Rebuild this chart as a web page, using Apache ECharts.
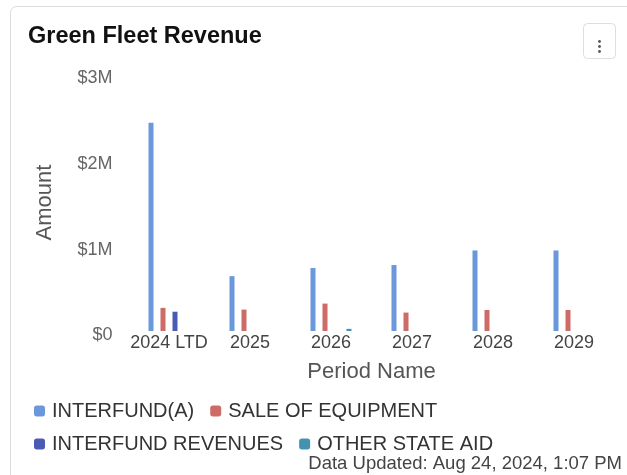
<!DOCTYPE html>
<html>
<head>
<meta charset="utf-8">
<script src="https://cdn.jsdelivr.net/npm/echarts@6/dist/echarts.min.js"></script>
<style>
  html, body { margin: 0; padding: 0; background: #fff; }
  #chart { width: 627px; height: 475px; }
</style>
</head>
<body>
<div id="chart"></div>
<script>
// Revenue by period, in dollars
const periods = ['2024 LTD', '2025', '2026', '2027', '2028', '2029'];
const interfundA = [2430000, 640000, 735000, 770000, 940000, 940000];
const saleOfEquipment = [270000, 250000, 320000, 215000, 245000, 245000];
const interfundRevenues = [225000, null, null, null, null, null];
const otherStateAid = [null, null, 25000, null, null, null];
const yTicks = [0, 1000000, 2000000, 3000000];

const seriesNames = ['INTERFUND(A)', 'SALE OF EQUIPMENT', 'INTERFUND REVENUES', 'OTHER STATE AID'];
const seriesColors = ['#6b97db', '#cd6b67', '#4a5bb5', '#4393b0'];
const seriesData = [interfundA, saleOfEquipment, interfundRevenues, otherStateAid];

const FONT = '"Liberation Sans", Helvetica, Arial, sans-serif';

const chart = echarts.init(document.getElementById('chart'), null, { renderer: 'canvas' });

function money(v) {
  const s = v === 0 ? '$0' : '$' + (v / 1000000) + 'M';
  return '{t|' + s + '}';
}

const legendBase = {
  left: 29,
  orient: 'horizontal',
  icon: 'roundRect',
  itemWidth: 11,
  itemHeight: 11,
  itemGap: 16,
  selectedMode: false,
  textStyle: { fontFamily: FONT, fontSize: 20, color: '#333', padding: [0, 0, 0, 2] }
};

chart.setOption({
  animation: false,
  backgroundColor: '#fff',
  title: {
    text: 'Green Fleet Revenue',
    left: 23,
    top: 20,
    textStyle: { fontFamily: FONT, fontSize: 23.5, fontWeight: 'bold', color: '#111' }
  },
  legend: [
    Object.assign({}, legendBase, { top: 396, data: seriesNames.slice(0, 2) }),
    Object.assign({}, legendBase, { top: 429, data: seriesNames.slice(2, 4) })
  ],
  grid: { left: 128.5, right: 12.5, top: 74, bottom: 144, containLabel: false },
  xAxis: {
    type: 'category',
    data: periods,
    name: 'Period Name',
    nameLocation: 'middle',
    nameGap: 30,
    nameTextStyle: { fontFamily: FONT, fontSize: 22, color: '#555' },
    axisLine: { show: false },
    axisTick: { show: false },
    axisLabel: { fontFamily: FONT, fontSize: 18, color: '#444', margin: 3, interval: 0 }
  },
  yAxis: {
    type: 'value',
    min: yTicks[0],
    max: yTicks[yTicks.length - 1],
    interval: yTicks[1] - yTicks[0],
    name: 'Amount',
    nameLocation: 'middle',
    nameGap: 73,
    nameTextStyle: { fontFamily: FONT, fontSize: 22, color: '#555' },
    splitLine: { show: false },
    axisLine: { show: false },
    axisTick: { show: false },
    axisLabel: {
      margin: 16,
      formatter: money,
      rich: {
        t: { fontFamily: FONT, fontSize: 18, color: '#666', padding: [9, 0, 0, 0] }
      }
    }
  },
  series: seriesNames.map((name, i) => ({
    name: name,
    type: 'bar',
    data: seriesData[i],
    barWidth: 5,
    barGap: '140%',
    itemStyle: { color: seriesColors[i] }
  })),
  graphic: [
    {
      type: 'rect',
      shape: { x: 10.5, y: 6.5, width: 640, height: 500, r: 6 },
      style: { fill: 'none', stroke: '#dcdce0', lineWidth: 1 },
      silent: true, z: -10
    },
    {
      type: 'rect',
      shape: { x: 583.5, y: 23.5, width: 32, height: 35, r: 4 },
      style: { fill: '#fff', stroke: '#dedee2', lineWidth: 1 },
      silent: true
    },
    { type: 'circle', shape: { cx: 599.5, cy: 41.5, r: 1.4 }, style: { fill: '#555' }, silent: true },
    { type: 'circle', shape: { cx: 599.5, cy: 46.5, r: 1.4 }, style: { fill: '#555' }, silent: true },
    { type: 'circle', shape: { cx: 599.5, cy: 51.5, r: 1.4 }, style: { fill: '#555' }, silent: true },
    {
      type: 'text',
      right: 5,
      top: 454,
      style: {
        text: 'Data Updated: Aug 24, 2024, 1:07 PM',
        font: '18.5px ' + FONT,
        fill: '#444'
      }
    }
  ]
});
</script>
</body>
</html>
